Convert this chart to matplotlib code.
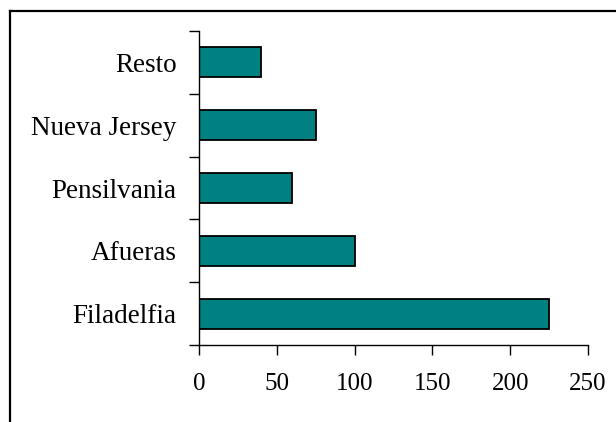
import matplotlib.pyplot as plt
from matplotlib.lines import Line2D

# Datos del grafico
regiones = ['Filadelfia', 'Afueras', 'Pensilvania', 'Nueva Jersey', 'Resto']
valores = [225, 100, 60, 75, 40]
x_ticks = [0, 50, 100, 150, 200, 250]

plt.rcParams['font.family'] = 'Liberation Serif'

fig = plt.figure(figsize=(6.16, 4.22), dpi=100)
ax = fig.add_axes([0.323, 0.1825, 0.6315, 0.744])

pos = range(len(regiones))
ax.barh(pos, valores, height=0.48, color='#008080', edgecolor='black', linewidth=1.3)

ax.set_xlim(0, 250)
ax.set_ylim(-0.5, len(regiones) - 0.5)
ax.set_xticks(x_ticks)
ax.set_xticklabels([str(v) for v in x_ticks], fontsize=18)

# ticks entre categorias, etiquetas al centro
ax.set_yticks([p - 0.5 for p in pos] + [len(regiones) - 0.5])
ax.set_yticklabels([])
ax.set_yticks(list(pos), minor=True)
ax.set_yticklabels(regiones, minor=True, fontsize=19.5)
ax.tick_params(axis='y', which='major', length=7, width=1, direction='out')
ax.tick_params(axis='y', which='minor', length=0, pad=16)
ax.tick_params(axis='x', length=7, width=1, direction='out', pad=13)

for s in ['top', 'right']:
    ax.spines[s].set_visible(False)
for s in ['left', 'bottom']:
    ax.spines[s].set_linewidth(1)

# marco exterior
fig.add_artist(Line2D([10 / 616, 1.0], [1 - 11 / 422, 1 - 11 / 422], color='black', lw=1.6, transform=fig.transFigure))
fig.add_artist(Line2D([10 / 616, 10 / 616], [0, 1 - 11 / 422], color='black', lw=1.6, transform=fig.transFigure))

fig.savefig('out.png', dpi=100)
